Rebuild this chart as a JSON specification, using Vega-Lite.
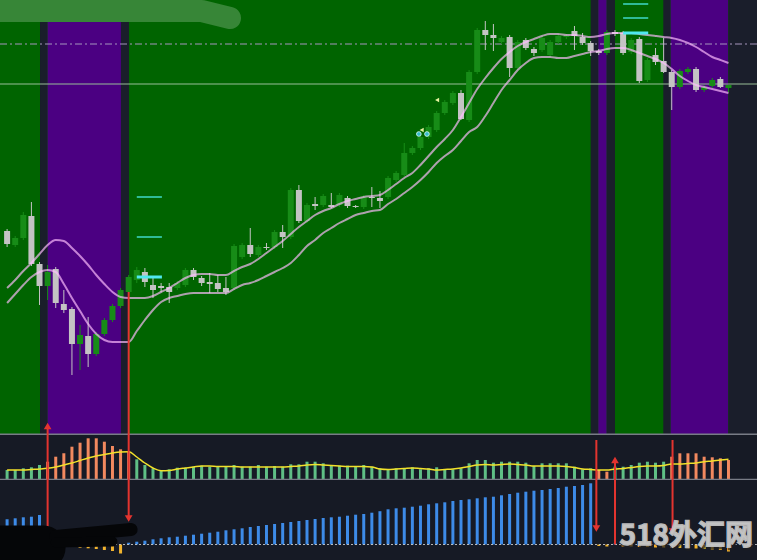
{
  "$schema": "https://vega.github.io/schema/vega-lite/v6.json",
  "background": "#161a25",
  "padding": 0,
  "spacing": 0,
  "bounds": "flush",
  "config": {"view": {"stroke": null}, "scale": {"continuousPadding": 0}},
  "datasets": {
    "candles": [
      {"n":0,"o":204,"h":206,"l":188,"c":191},{"n":1,"o":190,"h":199,"l":188,"c":197},{"n":2,"o":197,"h":223,"l":195,"c":220},{"n":3,"o":219,"h":233,"l":169,"c":171},{"n":4,"o":171,"h":173,"l":130,"c":149},
      {"n":5,"o":149,"h":170,"l":135,"c":163},{"n":6,"o":166,"h":168,"l":127,"c":132},{"n":7,"o":131,"h":145,"l":122,"c":125},{"n":8,"o":126,"h":128,"l":60,"c":91},{"n":9,"o":91,"h":110,"l":65,"c":100},
      {"n":10,"o":99,"h":118,"l":68,"c":81},{"n":11,"o":81,"h":103,"l":79,"c":101},{"n":12,"o":101,"h":117,"l":99,"c":115},{"n":13,"o":115,"h":131,"l":113,"c":129},{"n":14,"o":129,"h":147,"l":127,"c":145},
      {"n":15,"o":143,"h":160,"l":141,"c":158},{"n":16,"o":155,"h":168,"l":152,"c":165},{"n":17,"o":163,"h":167,"l":148,"c":153},{"n":18,"o":150,"h":157,"l":137,"c":145},{"n":19,"o":149,"h":152,"l":143,"c":147},
      {"n":20,"o":148,"h":152,"l":132,"c":143},{"n":21,"o":147,"h":154,"l":145,"c":152},{"n":22,"o":150,"h":167,"l":148,"c":165},{"n":23,"o":165,"h":167,"l":155,"c":158},{"n":24,"o":157,"h":159,"l":149,"c":152},
      {"n":25,"o":153,"h":162,"l":142,"c":151},{"n":26,"o":152,"h":160,"l":143,"c":146},{"n":27,"o":147,"h":158,"l":140,"c":143},{"n":28,"o":147,"h":191,"l":145,"c":189},{"n":29,"o":178,"h":192,"l":176,"c":190},
      {"n":30,"o":190,"h":207,"l":178,"c":181},{"n":31,"o":180,"h":190,"l":178,"c":188},{"n":32,"o":188,"h":192,"l":185,"c":187},{"n":33,"o":188,"h":205,"l":186,"c":203},{"n":34,"o":203,"h":210,"l":187,"c":198},
      {"n":35,"o":198,"h":247,"l":196,"c":245},{"n":36,"o":245,"h":250,"l":212,"c":214},{"n":37,"o":214,"h":232,"l":212,"c":230},{"n":38,"o":231,"h":238,"l":225,"c":229},{"n":39,"o":230,"h":241,"l":228,"c":239},
      {"n":40,"o":230,"h":242,"l":227,"c":228},{"n":41,"o":230,"h":242,"l":228,"c":240},{"n":42,"o":237,"h":239,"l":227,"c":229},{"n":43,"o":229,"h":230,"l":227,"c":228},{"n":44,"o":228,"h":240,"l":226,"c":238},
      {"n":45,"o":238,"h":248,"l":228,"c":237},{"n":46,"o":237,"h":244,"l":227,"c":234},{"n":47,"o":238,"h":259,"l":236,"c":257},{"n":48,"o":255,"h":264,"l":253,"c":262},{"n":49,"o":260,"h":292,"l":258,"c":282},
      {"n":50,"o":282,"h":289,"l":280,"c":287},{"n":51,"o":287,"h":300,"l":285,"c":298},{"n":52,"o":298,"h":310,"l":296,"c":308},{"n":53,"o":305,"h":324,"l":303,"c":322},{"n":54,"o":322,"h":335,"l":320,"c":333},
      {"n":55,"o":332,"h":344,"l":330,"c":342},{"n":56,"o":342,"h":345,"l":315,"c":316},{"n":57,"o":315,"h":365,"l":313,"c":363},{"n":58,"o":363,"h":407,"l":361,"c":405},{"n":59,"o":405,"h":414,"l":385,"c":400},
      {"n":60,"o":400,"h":411,"l":384,"c":397},{"n":61,"o":393,"h":399,"l":391,"c":397},{"n":62,"o":398,"h":400,"l":358,"c":367},{"n":63,"o":367,"h":395,"l":365,"c":393},{"n":64,"o":395,"h":397,"l":385,"c":387},
      {"n":65,"o":386,"h":388,"l":379,"c":382},{"n":66,"o":385,"h":399,"l":383,"c":397},{"n":67,"o":380,"h":395,"l":378,"c":393},{"n":68,"o":393,"h":401,"l":391,"c":399},{"n":69,"o":398,"h":401,"l":396,"c":399},
      {"n":70,"o":404,"h":409,"l":385,"c":399},{"n":71,"o":398,"h":402,"l":390,"c":392},{"n":72,"o":392,"h":394,"l":379,"c":384},{"n":73,"o":384,"h":386,"l":380,"c":382},{"n":74,"o":382,"h":405,"l":380,"c":403},
      {"n":75,"o":403,"h":405,"l":399,"c":401},{"n":76,"o":402,"h":404,"l":380,"c":382},{"n":77,"o":383,"h":397,"l":381,"c":395},{"n":78,"o":396,"h":398,"l":352,"c":354},{"n":79,"o":355,"h":377,"l":353,"c":375},
      {"n":80,"o":380,"h":387,"l":370,"c":373},{"n":81,"o":374,"h":397,"l":362,"c":363},{"n":82,"o":363,"h":365,"l":325,"c":348},{"n":83,"o":348,"h":366,"l":346,"c":364},{"n":84,"o":363,"h":368,"l":361,"c":366},
      {"n":85,"o":366,"h":368,"l":343,"c":345},{"n":86,"o":345,"h":350,"l":343,"c":348},{"n":87,"o":349,"h":357,"l":347,"c":355},{"n":88,"o":356,"h":358,"l":347,"c":348},{"n":89,"o":347,"h":350,"l":343,"c":350}
    ],
    "env": [
      {"n":0,"up":147,"lo":132},{"n":1,"up":155,"lo":141},{"n":2,"up":164,"lo":150},{"n":3,"up":172,"lo":158},{"n":4,"up":181,"lo":163},
      {"n":5,"up":190,"lo":165},{"n":6,"up":195,"lo":163},{"n":7,"up":194,"lo":151},{"n":8,"up":187,"lo":137},{"n":9,"up":179,"lo":124},
      {"n":10,"up":170,"lo":111},{"n":11,"up":160,"lo":101},{"n":12,"up":151,"lo":95},{"n":13,"up":143,"lo":93},{"n":14,"up":138,"lo":93},
      {"n":15,"up":137,"lo":93},{"n":16,"up":137,"lo":104},{"n":17,"up":137,"lo":115},{"n":18,"up":139,"lo":125},{"n":19,"up":143,"lo":133},
      {"n":20,"up":147,"lo":137},{"n":21,"up":152,"lo":139},{"n":22,"up":157,"lo":141},{"n":23,"up":160,"lo":142},{"n":24,"up":161,"lo":142},
      {"n":25,"up":161,"lo":142},{"n":26,"up":160,"lo":142},{"n":27,"up":160,"lo":142},{"n":28,"up":164,"lo":146},{"n":29,"up":168,"lo":150},
      {"n":30,"up":171,"lo":152},{"n":31,"up":176,"lo":155},{"n":32,"up":182,"lo":159},{"n":33,"up":188,"lo":163},{"n":34,"up":194,"lo":167},
      {"n":35,"up":201,"lo":172},{"n":36,"up":208,"lo":180},{"n":37,"up":214,"lo":189},{"n":38,"up":220,"lo":195},{"n":39,"up":224,"lo":202},
      {"n":40,"up":227,"lo":207},{"n":41,"up":231,"lo":212},{"n":42,"up":234,"lo":216},{"n":43,"up":236,"lo":220},{"n":44,"up":238,"lo":222},
      {"n":45,"up":239,"lo":224},{"n":46,"up":240,"lo":225},{"n":47,"up":245,"lo":231},{"n":48,"up":251,"lo":236},{"n":49,"up":257,"lo":242},
      {"n":50,"up":262,"lo":248},{"n":51,"up":270,"lo":255},{"n":52,"up":279,"lo":263},{"n":53,"up":288,"lo":272},{"n":54,"up":296,"lo":279},
      {"n":55,"up":305,"lo":285},{"n":56,"up":318,"lo":294},{"n":57,"up":332,"lo":303},{"n":58,"up":346,"lo":308},{"n":59,"up":357,"lo":319},
      {"n":60,"up":367,"lo":332},{"n":61,"up":376,"lo":345},{"n":62,"up":383,"lo":355},{"n":63,"up":389,"lo":365},{"n":64,"up":393,"lo":372},
      {"n":65,"up":396,"lo":377},{"n":66,"up":399,"lo":378},{"n":67,"up":401,"lo":378},{"n":68,"up":401,"lo":377},{"n":69,"up":400,"lo":377},
      {"n":70,"up":400,"lo":379},{"n":71,"up":399,"lo":381},{"n":72,"up":398,"lo":383},{"n":73,"up":399,"lo":384},{"n":74,"up":401,"lo":386},
      {"n":75,"up":402,"lo":387},{"n":76,"up":402,"lo":387},{"n":77,"up":402,"lo":385},{"n":78,"up":401,"lo":382},{"n":79,"up":400,"lo":379},
      {"n":80,"up":399,"lo":376},{"n":81,"up":398,"lo":372},{"n":82,"up":397,"lo":366},{"n":83,"up":395,"lo":359},{"n":84,"up":392,"lo":354},
      {"n":85,"up":388,"lo":350},{"n":86,"up":383,"lo":348},{"n":87,"up":378,"lo":346},{"n":88,"up":375,"lo":344},{"n":89,"up":372,"lo":342}
    ],
    "bands": [
      {"a":4.06,"b":5.0,"k":"d"},{"a":5.0,"b":14.05,"k":"p"},{"a":14.05,"b":15.04,"k":"d"},
      {"a":72.0,"b":72.94,"k":"d"},{"a":72.94,"b":73.98,"k":"p"},{"a":73.98,"b":75.0,"k":"d"},
      {"a":80.96,"b":81.87,"k":"d"},{"a":81.87,"b":88.98,"k":"p"},{"a":88.98,"b":92.6,"k":"d"}
    ],
    "levels": [{"p":391,"k":"dash"},{"p":351,"k":"solid"},{"p":0.7,"k":"sep"}],
    "cyan": [
      {"a":16.0,"b":19.1,"p":238,"k":"lvl"},{"a":16.0,"b":19.1,"p":198,"k":"lvl"},{"a":16.0,"b":19.1,"p":158,"k":"cur"},
      {"a":76.0,"b":79.1,"p":431,"k":"lvl"},{"a":76.0,"b":79.1,"p":417,"k":"lvl"},{"a":76.0,"b":79.1,"p":402,"k":"cur"}
    ],
    "sigs": [
      {"n":50.8,"p":301,"k":"dot"},{"n":51.8,"p":301,"k":"dot"},{"n":51.15,"p":305,"k":"tri"},{"n":53.05,"p":335,"k":"tri"}
    ],
    "hist": [
      {"n":0,"v":9,"m":9,"s":"g"},{"n":1,"v":9,"m":9,"s":"g"},{"n":2,"v":10.7,"m":9,"s":"g"},{"n":3,"v":11.7,"m":9.5,"s":"g"},{"n":4,"v":14,"m":10,"s":"g"},
      {"n":5,"v":17.3,"m":10.7,"s":"o"},{"n":6,"v":22.3,"m":12,"s":"o"},{"n":7,"v":25.7,"m":14,"s":"o"},{"n":8,"v":32.3,"m":16,"s":"o"},{"n":9,"v":36.3,"m":18.5,"s":"o"},
      {"n":10,"v":40.7,"m":21,"s":"o"},{"n":11,"v":40.7,"m":23,"s":"o"},{"n":12,"v":37.3,"m":24.5,"s":"o"},{"n":13,"v":33,"m":26,"s":"o"},{"n":14,"v":29.7,"m":27,"s":"o"},
      {"n":15,"v":27.3,"m":27.3,"s":"o"},{"n":16,"v":19.7,"m":22,"s":"g"},{"n":17,"v":14,"m":16,"s":"g"},{"n":18,"v":10.7,"m":11,"s":"g"},{"n":19,"v":9,"m":8.3,"s":"g"},
      {"n":20,"v":9.7,"m":8.5,"s":"g"},{"n":21,"v":11.3,"m":10,"s":"g"},{"n":22,"v":11.3,"m":11,"s":"g"},{"n":23,"v":12.3,"m":12,"s":"g"},{"n":24,"v":13.3,"m":13,"s":"g"},
      {"n":25,"v":12.3,"m":13,"s":"g"},{"n":26,"v":12.3,"m":12.5,"s":"g"},{"n":27,"v":13,"m":12.5,"s":"g"},{"n":28,"v":14,"m":12.5,"s":"g"},{"n":29,"v":12.3,"m":12,"s":"g"},
      {"n":30,"v":12.3,"m":12,"s":"g"},{"n":31,"v":14,"m":12,"s":"g"},{"n":32,"v":12.3,"m":12,"s":"g"},{"n":33,"v":13,"m":12,"s":"g"},{"n":34,"v":12.3,"m":12,"s":"g"},
      {"n":35,"v":14.7,"m":12.5,"s":"g"},{"n":36,"v":14.7,"m":13,"s":"g"},{"n":37,"v":17.3,"m":14,"s":"g"},{"n":38,"v":17.3,"m":14.5,"s":"g"},{"n":39,"v":15.7,"m":14,"s":"g"},
      {"n":40,"v":14,"m":13.5,"s":"g"},{"n":41,"v":13.3,"m":13,"s":"g"},{"n":42,"v":13.3,"m":12.5,"s":"g"},{"n":43,"v":12.3,"m":12.5,"s":"g"},{"n":44,"v":14,"m":12.5,"s":"g"},
      {"n":45,"v":12.3,"m":12,"s":"g"},{"n":46,"v":10.7,"m":10,"s":"g"},{"n":47,"v":9.7,"m":9.5,"s":"g"},{"n":48,"v":10.7,"m":10,"s":"g"},{"n":49,"v":10.7,"m":10.5,"s":"g"},
      {"n":50,"v":11.7,"m":11,"s":"g"},{"n":51,"v":9.7,"m":10.5,"s":"g"},{"n":52,"v":10.7,"m":10,"s":"g"},{"n":53,"v":11.7,"m":9,"s":"g"},{"n":54,"v":9.7,"m":9.5,"s":"g"},
      {"n":55,"v":9.7,"m":10,"s":"g"},{"n":56,"v":10.7,"m":11,"s":"g"},{"n":57,"v":15.7,"m":12.5,"s":"g"},{"n":58,"v":19,"m":14,"s":"g"},{"n":59,"v":19,"m":14.5,"s":"g"},
      {"n":60,"v":16.3,"m":14,"s":"g"},{"n":61,"v":17.3,"m":14.5,"s":"g"},{"n":62,"v":17.3,"m":15,"s":"g"},{"n":63,"v":17.3,"m":14.5,"s":"g"},{"n":64,"v":16.3,"m":14,"s":"g"},
      {"n":65,"v":13,"m":13,"s":"g"},{"n":66,"v":15.7,"m":13,"s":"g"},{"n":67,"v":15.7,"m":13,"s":"g"},{"n":68,"v":15.7,"m":13,"s":"g"},{"n":69,"v":15.7,"m":12.5,"s":"g"},
      {"n":70,"v":12.3,"m":11.5,"s":"g"},{"n":71,"v":9.7,"m":10,"s":"g"},{"n":72,"v":10.7,"m":9.5,"s":"g"},{"n":73,"v":9,"m":9,"s":"o"},{"n":74,"v":7.3,"m":9,"s":"o"},
      {"n":75,"v":12.3,"m":10,"s":"g"},{"n":76,"v":12.3,"m":10.5,"s":"g"},{"n":77,"v":14,"m":11.5,"s":"g"},{"n":78,"v":16.3,"m":12.5,"s":"g"},{"n":79,"v":17.3,"m":13,"s":"g"},
      {"n":80,"v":16.3,"m":13,"s":"g"},{"n":81,"v":17.3,"m":13.5,"s":"g"},{"n":82,"v":22.3,"m":15,"s":"o"},{"n":83,"v":25.7,"m":15,"s":"o"},{"n":84,"v":25.7,"m":15.5,"s":"o"},
      {"n":85,"v":25.7,"m":16,"s":"o"},{"n":86,"v":22.3,"m":17.3,"s":"o"},{"n":87,"v":21.7,"m":18,"s":"o"},{"n":88,"v":20.7,"m":19,"s":"o"},{"n":89,"v":19,"m":19.7,"s":"o"}
    ],
    "hlines": [{"v":-0.55,"k":"bottom"}],
    "cnt": [
      {"n":0,"v":25.2},{"n":1,"v":26.2},{"n":2,"v":27.2},{"n":3,"v":27.8},{"n":4,"v":29.5},
      {"n":5,"v":-1},{"n":6,"v":-1.5},{"n":7,"v":-2},{"n":8,"v":-2.5},{"n":9,"v":-3.2},
      {"n":10,"v":-3.8},{"n":11,"v":-4.5},{"n":12,"v":-5.5},{"n":13,"v":-6.5},{"n":14,"v":-9},
      {"n":15,"v":1.8},{"n":16,"v":2.8},{"n":17,"v":3.8},{"n":18,"v":5.2},{"n":19,"v":6.2},
      {"n":20,"v":7.2},{"n":21,"v":7.8},{"n":22,"v":8.8},{"n":23,"v":9.8},{"n":24,"v":10.8},
      {"n":25,"v":11.8},{"n":26,"v":12.8},{"n":27,"v":14.2},{"n":28,"v":15.2},{"n":29,"v":16.2},
      {"n":30,"v":17.5},{"n":31,"v":18.5},{"n":32,"v":19.5},{"n":33,"v":20.5},{"n":34,"v":21.5},
      {"n":35,"v":22.5},{"n":36,"v":23.5},{"n":37,"v":24.5},{"n":38,"v":25.5},{"n":39,"v":26.5},
      {"n":40,"v":27.2},{"n":41,"v":27.8},{"n":42,"v":28.8},{"n":43,"v":29.8},{"n":44,"v":30.5},
      {"n":45,"v":31.8},{"n":46,"v":33.3},{"n":47,"v":35.2},{"n":48,"v":36.2},{"n":49,"v":36.8},
      {"n":50,"v":37.8},{"n":51,"v":38.8},{"n":52,"v":40.2},{"n":53,"v":41.2},{"n":54,"v":42.2},
      {"n":55,"v":43.5},{"n":56,"v":44.5},{"n":57,"v":45.2},{"n":58,"v":46.2},{"n":59,"v":47.2},
      {"n":60,"v":47.8},{"n":61,"v":49.2},{"n":62,"v":50.5},{"n":63,"v":51.8},{"n":64,"v":52.8},
      {"n":65,"v":53.8},{"n":66,"v":54.5},{"n":67,"v":55.5},{"n":68,"v":56.5},{"n":69,"v":57.8},
      {"n":70,"v":58.5},{"n":71,"v":59.5},{"n":72,"v":61.2},{"n":73,"v":-1.5},{"n":74,"v":-2},
      {"n":75,"v":1},{"n":76,"v":-2},{"n":77,"v":-2},{"n":78,"v":-2.5},{"n":79,"v":-2.5},
      {"n":80,"v":-3},{"n":81,"v":-3},{"n":82,"v":-3},{"n":83,"v":-3.5},{"n":84,"v":-4},
      {"n":85,"v":-4},{"n":86,"v":-4.5},{"n":87,"v":-5},{"n":88,"v":-5.5},{"n":89,"v":-7}
    ],
    "base": [{"v":0}],
    "arrM": [{"n":5,"a":0,"b":10},{"n":15,"a":0,"b":143}],
    "headM": [{"n":5,"v":9,"d":"up"}],
    "arrH": [{"n":5,"a":-1,"b":44},{"n":15,"a":-1,"b":44},{"n":72.7,"a":-1,"b":39},{"n":75,"a":-1,"b":20},{"n":82.1,"a":-1,"b":39}],
    "headH": [{"n":75,"v":19,"d":"up"}],
    "arrB": [{"n":5,"a":4.5,"b":64.5},{"n":15,"a":27,"b":64.5},{"n":72.7,"a":17,"b":64.5},{"n":75,"a":0,"b":64.5},{"n":82.1,"a":14,"b":64.5}],
    "headB": [{"n":15,"v":26,"d":"down"},{"n":72.7,"v":16,"d":"down"},{"n":82.1,"v":13,"d":"down"}],
    "scribTop": [{"i":0,"n":-0.9,"v":424},{"i":1,"n":24,"v":424},{"i":2,"n":27.5,"v":417}],
    "scribBot": [
      {"g":"b1","i":0,"n":-0.9,"v":-3},{"g":"b1","i":1,"n":4.5,"v":-3},
      {"g":"b2","i":0,"n":6,"v":8},{"g":"b2","i":1,"n":15.3,"v":15},
      {"g":"b3","i":0,"n":6,"v":2},{"g":"b3","i":1,"n":13,"v":3}
    ],
    "wm": [{"n": 83.8, "v": 7.5, "t": "518外汇网"}]
  },
  "vconcat": [
    {
      "width": 757,
      "height": 435,
      "view": {"fill": "#006400", "stroke": null},
      "layer": [
        {
          "data": {"name": "bands"},
          "mark": {"type": "rect", "clip": true},
          "encoding": {
            "x": {"field": "a", "type": "quantitative", "scale": {"domain": [-0.876, 92.52], "nice": false, "zero": false, "padding": 0}, "axis": null},
            "x2": {"field": "b"},
            "y": {"datum": 0, "type": "quantitative", "scale": {"domain": [0, 435], "nice": false, "zero": false, "padding": 0}, "axis": null},
            "y2": {"datum": 435},
            "color": {"condition": {"test": "datum.k == 'p'", "value": "#4b0082"}, "value": "#1a1e2b"}
          }
        },
        {
          "data": {"name": "levels"},
          "transform": [{"filter": "datum.k == 'dash'"}],
          "mark": {"type": "rule", "color": "#a595bd", "strokeWidth": 1, "strokeDash": [7, 3, 2, 3], "clip": true},
          "encoding": {"y": {"field": "p", "type": "quantitative", "scale": {"domain": [0, 435], "nice": false, "zero": false, "padding": 0}, "axis": null}}
        },
        {
          "data": {"name": "levels"},
          "transform": [{"filter": "datum.k == 'solid'"}],
          "mark": {"type": "rule", "color": "#98bd98", "strokeWidth": 1, "clip": true},
          "encoding": {"y": {"field": "p", "type": "quantitative", "scale": {"domain": [0, 435], "nice": false, "zero": false, "padding": 0}, "axis": null}}
        },
        {
          "data": {"name": "candles"},
          "mark": {"type": "rule", "strokeWidth": 1, "clip": true},
          "encoding": {
            "x": {"field": "n", "type": "quantitative", "scale": {"domain": [-0.876, 92.52], "nice": false, "zero": false, "padding": 0}, "axis": null},
            "y": {"field": "l", "type": "quantitative", "scale": {"domain": [0, 435], "nice": false, "zero": false, "padding": 0}, "axis": null},
            "y2": {"field": "h"},
            "color": {"condition": {"test": "datum.c >= datum.o", "value": "#178c17"}, "value": "#c4c4c4"}
          }
        },
        {
          "data": {"name": "candles"},
          "mark": {"type": "bar", "size": 6, "clip": true},
          "encoding": {
            "x": {"field": "n", "type": "quantitative", "scale": {"domain": [-0.876, 92.52], "nice": false, "zero": false, "padding": 0}, "axis": null},
            "y": {"field": "o", "type": "quantitative", "scale": {"domain": [0, 435], "nice": false, "zero": false, "padding": 0}, "axis": null},
            "y2": {"field": "c"},
            "color": {"condition": {"test": "datum.c >= datum.o", "value": "#178c17"}, "value": "#c4c4c4"}
          }
        },
        {
          "data": {"name": "env"},
          "mark": {"type": "line", "color": "#ffbeff", "opacity": 0.68, "strokeWidth": 2, "interpolate": "monotone", "clip": true},
          "encoding": {
            "x": {"field": "n", "type": "quantitative", "scale": {"domain": [-0.876, 92.52], "nice": false, "zero": false, "padding": 0}, "axis": null},
            "y": {"field": "up", "type": "quantitative", "scale": {"domain": [0, 435], "nice": false, "zero": false, "padding": 0}, "axis": null}
          }
        },
        {
          "data": {"name": "env"},
          "mark": {"type": "line", "color": "#ffbeff", "opacity": 0.68, "strokeWidth": 2, "interpolate": "monotone", "clip": true},
          "encoding": {
            "x": {"field": "n", "type": "quantitative", "scale": {"domain": [-0.876, 92.52], "nice": false, "zero": false, "padding": 0}, "axis": null},
            "y": {"field": "lo", "type": "quantitative", "scale": {"domain": [0, 435], "nice": false, "zero": false, "padding": 0}, "axis": null}
          }
        },
        {
          "data": {"name": "cyan"},
          "transform": [{"filter": "datum.k == 'lvl'"}],
          "mark": {"type": "rule", "color": "#3fd9c8", "strokeWidth": 1.5, "clip": true},
          "encoding": {
            "x": {"field": "a", "type": "quantitative", "scale": {"domain": [-0.876, 92.52], "nice": false, "zero": false, "padding": 0}, "axis": null},
            "x2": {"field": "b"},
            "y": {"field": "p", "type": "quantitative", "scale": {"domain": [0, 435], "nice": false, "zero": false, "padding": 0}, "axis": null}
          }
        },
        {
          "data": {"name": "cyan"},
          "transform": [{"filter": "datum.k == 'cur'"}],
          "mark": {"type": "rule", "color": "#4fe8f0", "strokeWidth": 3, "clip": true},
          "encoding": {
            "x": {"field": "a", "type": "quantitative", "scale": {"domain": [-0.876, 92.52], "nice": false, "zero": false, "padding": 0}, "axis": null},
            "x2": {"field": "b"},
            "y": {"field": "p", "type": "quantitative", "scale": {"domain": [0, 435], "nice": false, "zero": false, "padding": 0}, "axis": null}
          }
        },
        {
          "data": {"name": "sigs"},
          "transform": [{"filter": "datum.k == 'dot'"}],
          "mark": {"type": "point", "shape": "circle", "filled": true, "size": 22, "color": "#37b9c9", "stroke": "#dff", "strokeWidth": 0.8, "opacity": 1, "clip": true},
          "encoding": {
            "x": {"field": "n", "type": "quantitative", "scale": {"domain": [-0.876, 92.52], "nice": false, "zero": false, "padding": 0}, "axis": null},
            "y": {"field": "p", "type": "quantitative", "scale": {"domain": [0, 435], "nice": false, "zero": false, "padding": 0}, "axis": null}
          }
        },
        {
          "data": {"name": "sigs"},
          "transform": [{"filter": "datum.k == 'tri'"}],
          "mark": {"type": "point", "shape": "triangle-left", "filled": true, "size": 22, "color": "#e6f3a0", "opacity": 1, "clip": true},
          "encoding": {
            "x": {"field": "n", "type": "quantitative", "scale": {"domain": [-0.876, 92.52], "nice": false, "zero": false, "padding": 0}, "axis": null},
            "y": {"field": "p", "type": "quantitative", "scale": {"domain": [0, 435], "nice": false, "zero": false, "padding": 0}, "axis": null}
          }
        },
        {
          "data": {"name": "levels"},
          "transform": [{"filter": "datum.k == 'sep'"}],
          "mark": {"type": "rule", "color": "#787c86", "strokeWidth": 1.6, "clip": true},
          "encoding": {"y": {"field": "p", "type": "quantitative", "scale": {"domain": [0, 435], "nice": false, "zero": false, "padding": 0}, "axis": null}}
        },
        {
          "data": {"name": "arrM"},
          "mark": {"type": "rule", "color": "#e3342f", "strokeWidth": 2, "clip": true},
          "encoding": {
            "x": {"field": "n", "type": "quantitative", "scale": {"domain": [-0.876, 92.52], "nice": false, "zero": false, "padding": 0}, "axis": null},
            "y": {"field": "a", "type": "quantitative", "scale": {"domain": [0, 435], "nice": false, "zero": false, "padding": 0}, "axis": null},
            "y2": {"field": "b"}
          }
        },
        {
          "data": {"name": "headM"},
          "mark": {"type": "point", "shape": "triangle-up", "filled": true, "size": 60, "color": "#e3342f", "opacity": 1, "clip": true},
          "encoding": {
            "x": {"field": "n", "type": "quantitative", "scale": {"domain": [-0.876, 92.52], "nice": false, "zero": false, "padding": 0}, "axis": null},
            "y": {"field": "v", "type": "quantitative", "scale": {"domain": [0, 435], "nice": false, "zero": false, "padding": 0}, "axis": null}
          }
        },
        {
          "data": {"name": "scribTop"},
          "mark": {"type": "line", "color": "#378637", "strokeWidth": 22, "strokeCap": "round", "strokeJoin": "round", "clip": true},
          "encoding": {
            "x": {"field": "n", "type": "quantitative", "scale": {"domain": [-0.876, 92.52], "nice": false, "zero": false, "padding": 0}, "axis": null},
            "y": {"field": "v", "type": "quantitative", "scale": {"domain": [0, 435], "nice": false, "zero": false, "padding": 0}, "axis": null},
            "order": {"field": "i"}
          }
        }
      ]
    },
    {
      "width": 757,
      "height": 45,
      "view": {"fill": "#161a25", "stroke": null},
      "layer": [
        {
          "data": {"name": "hist"},
          "mark": {"type": "bar", "size": 3, "clip": true},
          "encoding": {
            "x": {"field": "n", "type": "quantitative", "scale": {"domain": [-0.876, 92.52], "nice": false, "zero": false, "padding": 0}, "axis": null},
            "y": {"field": "v", "type": "quantitative", "scale": {"domain": [-1, 44], "nice": false, "zero": false, "padding": 0}, "axis": null},
            "y2": {"datum": 0},
            "color": {"condition": {"test": "datum.s == 'o'", "value": "#f2895f"}, "value": "#5fbf85"}
          }
        },
        {
          "data": {"name": "hist"},
          "mark": {"type": "line", "color": "#f2e12a", "strokeWidth": 1.5, "interpolate": "monotone", "clip": true},
          "encoding": {
            "x": {"field": "n", "type": "quantitative", "scale": {"domain": [-0.876, 92.52], "nice": false, "zero": false, "padding": 0}, "axis": null},
            "y": {"field": "m", "type": "quantitative", "scale": {"domain": [-1, 44], "nice": false, "zero": false, "padding": 0}, "axis": null}
          }
        },
        {
          "data": {"name": "hlines"},
          "mark": {"type": "rule", "color": "#787c86", "strokeWidth": 1.5, "clip": true},
          "encoding": {"y": {"field": "v", "type": "quantitative", "scale": {"domain": [-1, 44], "nice": false, "zero": false, "padding": 0}, "axis": null}}
        },
        {
          "data": {"name": "arrH"},
          "mark": {"type": "rule", "color": "#e3342f", "strokeWidth": 2, "clip": true},
          "encoding": {
            "x": {"field": "n", "type": "quantitative", "scale": {"domain": [-0.876, 92.52], "nice": false, "zero": false, "padding": 0}, "axis": null},
            "y": {"field": "a", "type": "quantitative", "scale": {"domain": [-1, 44], "nice": false, "zero": false, "padding": 0}, "axis": null},
            "y2": {"field": "b"}
          }
        },
        {
          "data": {"name": "headH"},
          "mark": {"type": "point", "shape": "triangle-up", "filled": true, "size": 60, "color": "#e3342f", "opacity": 1, "clip": true},
          "encoding": {
            "x": {"field": "n", "type": "quantitative", "scale": {"domain": [-0.876, 92.52], "nice": false, "zero": false, "padding": 0}, "axis": null},
            "y": {"field": "v", "type": "quantitative", "scale": {"domain": [-1, 44], "nice": false, "zero": false, "padding": 0}, "axis": null}
          }
        }
      ]
    },
    {
      "width": 757,
      "height": 80,
      "view": {"fill": "#161a25", "stroke": null},
      "layer": [
        {
          "data": {"name": "cnt"},
          "mark": {"type": "bar", "size": 3, "clip": true},
          "encoding": {
            "x": {"field": "n", "type": "quantitative", "scale": {"domain": [-0.876, 92.52], "nice": false, "zero": false, "padding": 0}, "axis": null},
            "y": {"field": "v", "type": "quantitative", "scale": {"domain": [-15.5, 64.5], "nice": false, "zero": false, "padding": 0}, "axis": null},
            "y2": {"datum": 0},
            "color": {"condition": {"test": "datum.v >= 0", "value": "#3d8be8"}, "value": "#f2b42e"}
          }
        },
        {
          "data": {"name": "base"},
          "mark": {"type": "rule", "color": "#d0d0d0", "strokeWidth": 1, "strokeDash": [2, 2], "opacity": 0.85, "clip": true},
          "encoding": {"y": {"field": "v", "type": "quantitative", "scale": {"domain": [-15.5, 64.5], "nice": false, "zero": false, "padding": 0}, "axis": null}}
        },
        {
          "data": {"name": "arrB"},
          "mark": {"type": "rule", "color": "#e3342f", "strokeWidth": 2, "clip": true},
          "encoding": {
            "x": {"field": "n", "type": "quantitative", "scale": {"domain": [-0.876, 92.52], "nice": false, "zero": false, "padding": 0}, "axis": null},
            "y": {"field": "a", "type": "quantitative", "scale": {"domain": [-15.5, 64.5], "nice": false, "zero": false, "padding": 0}, "axis": null},
            "y2": {"field": "b"}
          }
        },
        {
          "data": {"name": "headB"},
          "mark": {"type": "point", "shape": "triangle-down", "filled": true, "size": 60, "color": "#e3342f", "opacity": 1, "clip": true},
          "encoding": {
            "x": {"field": "n", "type": "quantitative", "scale": {"domain": [-0.876, 92.52], "nice": false, "zero": false, "padding": 0}, "axis": null},
            "y": {"field": "v", "type": "quantitative", "scale": {"domain": [-15.5, 64.5], "nice": false, "zero": false, "padding": 0}, "axis": null}
          }
        },
        {
          "data": {"name": "scribBot"},
          "transform": [{"filter": "datum.g == 'b1'"}],
          "mark": {"type": "line", "color": "#050608", "strokeWidth": 44, "strokeCap": "round", "clip": true},
          "encoding": {
            "x": {"field": "n", "type": "quantitative", "scale": {"domain": [-0.876, 92.52], "nice": false, "zero": false, "padding": 0}, "axis": null},
            "y": {"field": "v", "type": "quantitative", "scale": {"domain": [-15.5, 64.5], "nice": false, "zero": false, "padding": 0}, "axis": null},
            "order": {"field": "i"}
          }
        },
        {
          "data": {"name": "scribBot"},
          "transform": [{"filter": "datum.g == 'b2'"}],
          "mark": {"type": "line", "color": "#050608", "strokeWidth": 13, "strokeCap": "round", "clip": true},
          "encoding": {
            "x": {"field": "n", "type": "quantitative", "scale": {"domain": [-0.876, 92.52], "nice": false, "zero": false, "padding": 0}, "axis": null},
            "y": {"field": "v", "type": "quantitative", "scale": {"domain": [-15.5, 64.5], "nice": false, "zero": false, "padding": 0}, "axis": null},
            "order": {"field": "i"}
          }
        },
        {
          "data": {"name": "scribBot"},
          "transform": [{"filter": "datum.g == 'b3'"}],
          "mark": {"type": "line", "color": "#050608", "strokeWidth": 10, "strokeCap": "round", "clip": true},
          "encoding": {
            "x": {"field": "n", "type": "quantitative", "scale": {"domain": [-0.876, 92.52], "nice": false, "zero": false, "padding": 0}, "axis": null},
            "y": {"field": "v", "type": "quantitative", "scale": {"domain": [-15.5, 64.5], "nice": false, "zero": false, "padding": 0}, "axis": null},
            "order": {"field": "i"}
          }
        },
        {
          "data": {"name": "wm"},
          "mark": {"type": "text", "font": "Noto Sans CJK SC", "fontSize": 28, "fontWeight": "bold", "color": "#1e1e22", "stroke": "#1e1e22", "strokeWidth": 2, "dx": 1.5, "dy": 1.5, "align": "center", "baseline": "middle", "opacity": 0.7, "clip": true},
          "encoding": {
            "x": {"field": "n", "type": "quantitative", "scale": {"domain": [-0.876, 92.52], "nice": false, "zero": false, "padding": 0}, "axis": null},
            "y": {"field": "v", "type": "quantitative", "scale": {"domain": [-15.5, 64.5], "nice": false, "zero": false, "padding": 0}, "axis": null},
            "text": {"field": "t"}
          }
        },
        {
          "data": {"name": "wm"},
          "mark": {"type": "text", "font": "Noto Sans CJK SC", "fontSize": 28, "fontWeight": "bold", "color": "#cdcdcd", "stroke": "#c4c4c4", "strokeWidth": 1.3, "align": "center", "baseline": "middle", "opacity": 0.95, "clip": true},
          "encoding": {
            "x": {"field": "n", "type": "quantitative", "scale": {"domain": [-0.876, 92.52], "nice": false, "zero": false, "padding": 0}, "axis": null},
            "y": {"field": "v", "type": "quantitative", "scale": {"domain": [-15.5, 64.5], "nice": false, "zero": false, "padding": 0}, "axis": null},
            "text": {"field": "t"}
          }
        }
      ]
    }
  ]
}
